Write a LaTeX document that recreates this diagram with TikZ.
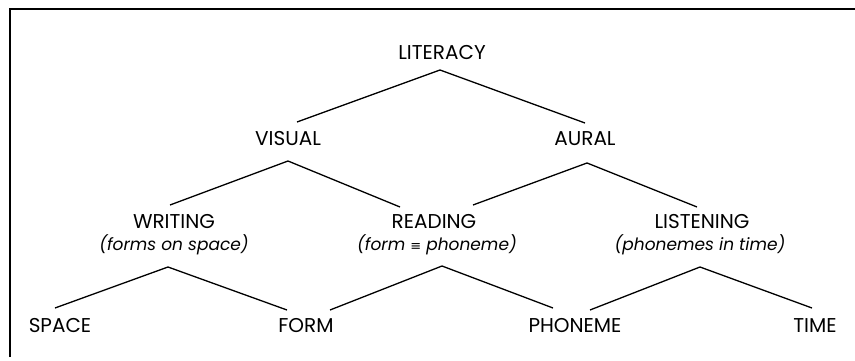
\documentclass[tikz,border=0pt]{standalone}
\usepackage{fontspec}
\setmainfont{Poppins}
\newfontfamily\symfont{DejaVu Sans}
\usetikzlibrary{calc}
\begin{document}
\begin{tikzpicture}[x=1pt,y=-1pt,
  lbl/.style={font=\fontsize{20}{22}\selectfont, inner sep=0pt, anchor=base},
  sub/.style={font=\itshape\fontsize{17}{19}\selectfont, inner sep=0pt, anchor=base},
  conn/.style={line width=1.3pt},
  frame/.style={line width=1.8pt}]
\useasboundingbox (0,0) rectangle (855,361);
% frame
\coordinate (tl) at (10,9);
\coordinate (tr) at (855,9);
\coordinate (bl) at (10,357);
\draw[frame] (bl) -- (tl) -- (tr);
% nodes
\node[lbl] (lit) at (442,60) {LITERACY};
\node[lbl] (vis) at (288,146) {VISUAL};
\node[lbl] (aur) at (585,146) {AURAL};
\node[lbl] (wri) at (174,228) {WRITING};
\node[sub] (wsub) at (174,250) {(forms on space)};
\node[lbl] (rea) at (434,228) {READING};
\node[sub] (rsub) at (437,250) {(form {\upshape\symfont\fontsize{13}{14}\selectfont ≡} phoneme)};
\node[lbl] (lis) at (702,228) {LISTENING};
\node[sub] (lsub) at (700,250) {(phonemes in time)};
\node[lbl] (spa) at (60,332) {SPACE};
\node[lbl] (frm) at (306,332) {FORM};
\node[lbl] (pho) at (575,332) {PHONEME};
\node[lbl] (tim) at (815,332) {TIME};
% connectors
\draw[conn] ($(vis.base)+(9,-24)$) -- ($(lit.base)+(-2,10)$) -- ($(aur.base)+(0,-23)$);
\draw[conn] ($(wri.base)+(-4,-23)$) -- ($(vis.base)+(0,15)$) -- ($(rea.base)+(-34,-21)$);
\draw[conn] ($(rea.base)+(39,-23)$) -- ($(aur.base)+(2,17)$) -- ($(lis.base)+(-5,-21)$);
\draw[conn] ($(spa.base)+(-5,-24)$) -- ($(wsub.base)+(-6,17)$) -- ($(frm.base)+(-19,-22)$);
\draw[conn] ($(frm.base)+(24,-22)$) -- ($(rsub.base)+(5,16)$) -- ($(pho.base)+(-22,-24)$);
\draw[conn] ($(pho.base)+(15,-22)$) -- ($(lsub.base)+(0,17)$) -- ($(tim.base)+(-3,-24)$);
\end{tikzpicture}
\end{document}
